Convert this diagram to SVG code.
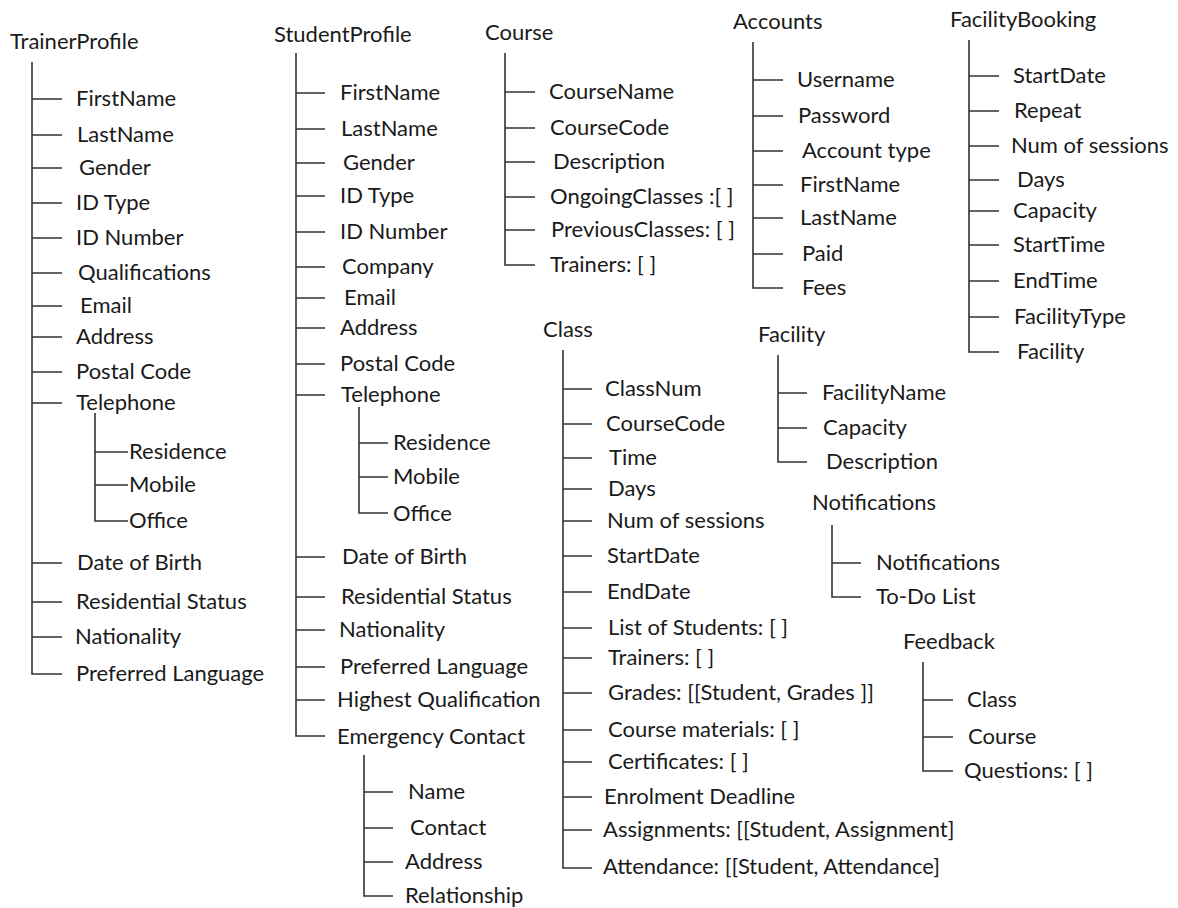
<svg xmlns="http://www.w3.org/2000/svg" width="1178" height="908" viewBox="0 0 1178 908">
<style>
text{font-family:Lato,"Liberation Sans",sans-serif;font-size:22px;fill:#1a1a1a}
.c path{fill:none;stroke:#333;stroke-width:1.6}
</style>
<rect width="1178" height="908" fill="#fff"/>
<g class="c" id="connectors">
<path d="M32 62V674H62M32 99H62M32 135H62M32 168H62M32 203H62M32 238H62M32 273H62M32 306H62M32 337H62M32 372H62M32 403H62M32 563H62M32 602H62M32 637H62"/>
<path d="M95 413V521H128M95 452H128M95 485H128"/>
<path d="M296 53V736H325M296 93H325M296 129H325M296 163H325M296 196H325M296 232H325M296 267H325M296 298H325M296 328H325M296 364H325M296 395H325M296 557H325M296 597H325M296 630H325M296 667H325M296 700H325"/>
<path d="M359 407V513H388M359 443H388M359 477H388"/>
<path d="M364 755V896H393M364 792H393M364 828H393M364 862H393"/>
<path d="M505 53V265H535M505 92H535M505 128H535M505 162H535M505 197H535M505 230H535"/>
<path d="M753 42V288H783M753 80H783M753 116H783M753 151H783M753 185H783M753 218H783M753 254H783"/>
<path d="M969 40V352H999M969 76H999M969 111H999M969 146H999M969 180H999M969 211H999M969 245H999M969 281H999M969 317H999"/>
<path d="M563 350V868H592M563 389H592M563 424H592M563 458H592M563 489H592M563 521H592M563 556H592M563 592H592M563 628H592M563 658H592M563 693H592M563 730H592M563 762H592M563 797H592M563 830H592"/>
<path d="M778 355V462H807M778 393H807M778 428H807"/>
<path d="M832 525V597H861M832 563H861"/>
<path d="M923 662V771H953M923 700H953M923 737H953"/>
</g>
<g id="TrainerProfile">
<g id="tp-title"><text x="10" y="49">TrainerProfile</text></g>
<g id="tp-firstname"><text x="76" y="106">FirstName</text></g>
<g id="tp-lastname"><text x="77" y="142">LastName</text></g>
<g id="tp-gender"><text x="79" y="175">Gender</text></g>
<g id="tp-idtype"><text x="76" y="210">ID Type</text></g>
<g id="tp-idnumber"><text x="76" y="245">ID Number</text></g>
<g id="tp-qualifications"><text x="78" y="280">Qualifications</text></g>
<g id="tp-email"><text x="80" y="313">Email</text></g>
<g id="tp-address"><text x="76" y="344">Address</text></g>
<g id="tp-postalcode"><text x="76" y="379">Postal Code</text></g>
<g id="tp-telephone"><text x="76" y="410">Telephone</text></g>
<g id="tp-residence"><text x="129" y="459">Residence</text></g>
<g id="tp-mobile"><text x="129" y="492">Mobile</text></g>
<g id="tp-office"><text x="129" y="528">Office</text></g>
<g id="tp-dob"><text x="77" y="570">Date of Birth</text></g>
<g id="tp-residential"><text x="76" y="609">Residential Status</text></g>
<g id="tp-nationality"><text x="75" y="644">Nationality</text></g>
<g id="tp-language"><text x="76" y="681">Preferred Language</text></g>
</g>
<g id="StudentProfile">
<g id="sp-title"><text x="274" y="42">StudentProfile</text></g>
<g id="sp-firstname"><text x="340" y="100">FirstName</text></g>
<g id="sp-lastname"><text x="341" y="136">LastName</text></g>
<g id="sp-gender"><text x="343" y="170">Gender</text></g>
<g id="sp-idtype"><text x="340" y="203">ID Type</text></g>
<g id="sp-idnumber"><text x="340" y="239">ID Number</text></g>
<g id="sp-company"><text x="342" y="274">Company</text></g>
<g id="sp-email"><text x="344" y="305">Email</text></g>
<g id="sp-address"><text x="340" y="335">Address</text></g>
<g id="sp-postalcode"><text x="340" y="371">Postal Code</text></g>
<g id="sp-telephone"><text x="341" y="402">Telephone</text></g>
<g id="sp-residence"><text x="393" y="450">Residence</text></g>
<g id="sp-mobile"><text x="393" y="484">Mobile</text></g>
<g id="sp-office"><text x="393" y="521">Office</text></g>
<g id="sp-dob"><text x="342" y="564">Date of Birth</text></g>
<g id="sp-residential"><text x="341" y="604">Residential Status</text></g>
<g id="sp-nationality"><text x="339" y="637">Nationality</text></g>
<g id="sp-language"><text x="340" y="674">Preferred Language</text></g>
<g id="sp-highest"><text x="337" y="707">Highest Qualification</text></g>
<g id="sp-emergency"><text x="337" y="744">Emergency Contact</text></g>
<g id="sp-ec-name"><text x="408" y="799">Name</text></g>
<g id="sp-ec-contact"><text x="410" y="835">Contact</text></g>
<g id="sp-ec-address"><text x="405" y="869">Address</text></g>
<g id="sp-ec-relationship"><text x="405" y="903">Relationship</text></g>
</g>
<g id="Course">
<g id="co-title"><text x="485" y="40">Course</text></g>
<g id="co-name"><text x="549" y="99">CourseName</text></g>
<g id="co-code"><text x="550" y="135">CourseCode</text></g>
<g id="co-desc"><text x="553" y="169">Description</text></g>
<g id="co-ongoing"><text x="550" y="204">OngoingClasses :[ ]</text></g>
<g id="co-previous"><text x="551" y="237">PreviousClasses: [ ]</text></g>
<g id="co-trainers"><text x="550" y="272">Trainers: [ ]</text></g>
</g>
<g id="Accounts">
<g id="ac-title"><text x="733" y="29">Accounts</text></g>
<g id="ac-username"><text x="797" y="87">Username</text></g>
<g id="ac-password"><text x="798" y="123">Password</text></g>
<g id="ac-type"><text x="802" y="158">Account type</text></g>
<g id="ac-firstname"><text x="800" y="192">FirstName</text></g>
<g id="ac-lastname"><text x="800" y="225">LastName</text></g>
<g id="ac-paid"><text x="802" y="261">Paid</text></g>
<g id="ac-fees"><text x="802" y="295">Fees</text></g>
</g>
<g id="FacilityBooking">
<g id="fb-title"><text x="950" y="27">FacilityBooking</text></g>
<g id="fb-startdate"><text x="1013" y="83">StartDate</text></g>
<g id="fb-repeat"><text x="1014" y="118">Repeat</text></g>
<g id="fb-sessions"><text x="1011" y="153">Num of sessions</text></g>
<g id="fb-days"><text x="1017" y="187">Days</text></g>
<g id="fb-capacity"><text x="1013" y="218">Capacity</text></g>
<g id="fb-starttime"><text x="1013" y="252">StartTime</text></g>
<g id="fb-endtime"><text x="1013" y="288">EndTime</text></g>
<g id="fb-type"><text x="1014" y="324">FacilityType</text></g>
<g id="fb-facility"><text x="1017" y="359">Facility</text></g>
</g>
<g id="Class">
<g id="cl-title"><text x="543" y="337">Class</text></g>
<g id="cl-classnum"><text x="605" y="396">ClassNum</text></g>
<g id="cl-coursecode"><text x="606" y="431">CourseCode</text></g>
<g id="cl-time"><text x="609" y="465">Time</text></g>
<g id="cl-days"><text x="608" y="496">Days</text></g>
<g id="cl-sessions"><text x="607" y="528">Num of sessions</text></g>
<g id="cl-startdate"><text x="607" y="563">StartDate</text></g>
<g id="cl-enddate"><text x="607" y="599">EndDate</text></g>
<g id="cl-students"><text x="608" y="635">List of Students: [ ]</text></g>
<g id="cl-trainers"><text x="608" y="665">Trainers: [ ]</text></g>
<g id="cl-grades"><text x="608" y="700">Grades: [[Student, Grades ]]</text></g>
<g id="cl-materials"><text x="608" y="737">Course materials: [ ]</text></g>
<g id="cl-certificates"><text x="608" y="769">Certificates: [ ]</text></g>
<g id="cl-deadline"><text x="604" y="804">Enrolment Deadline</text></g>
<g id="cl-assignments"><text x="603" y="837">Assignments: [[Student, Assignment]</text></g>
<g id="cl-attendance"><text x="603" y="874">Attendance: [[Student, Attendance]</text></g>
</g>
<g id="Facility">
<g id="fa-title"><text x="758" y="342">Facility</text></g>
<g id="fa-name"><text x="822" y="400">FacilityName</text></g>
<g id="fa-capacity"><text x="823" y="435">Capacity</text></g>
<g id="fa-desc"><text x="826" y="469">Description</text></g>
</g>
<g id="Notifications">
<g id="no-title"><text x="812" y="510">Notifications</text></g>
<g id="no-notifications"><text x="876" y="570">Notifications</text></g>
<g id="no-todo"><text x="876" y="604">To-Do List</text></g>
</g>
<g id="Feedback">
<g id="fe-title"><text x="903" y="649">Feedback</text></g>
<g id="fe-class"><text x="967" y="707">Class</text></g>
<g id="fe-course"><text x="968" y="744">Course</text></g>
<g id="fe-questions"><text x="964" y="778">Questions: [ ]</text></g>
</g>
</svg>
